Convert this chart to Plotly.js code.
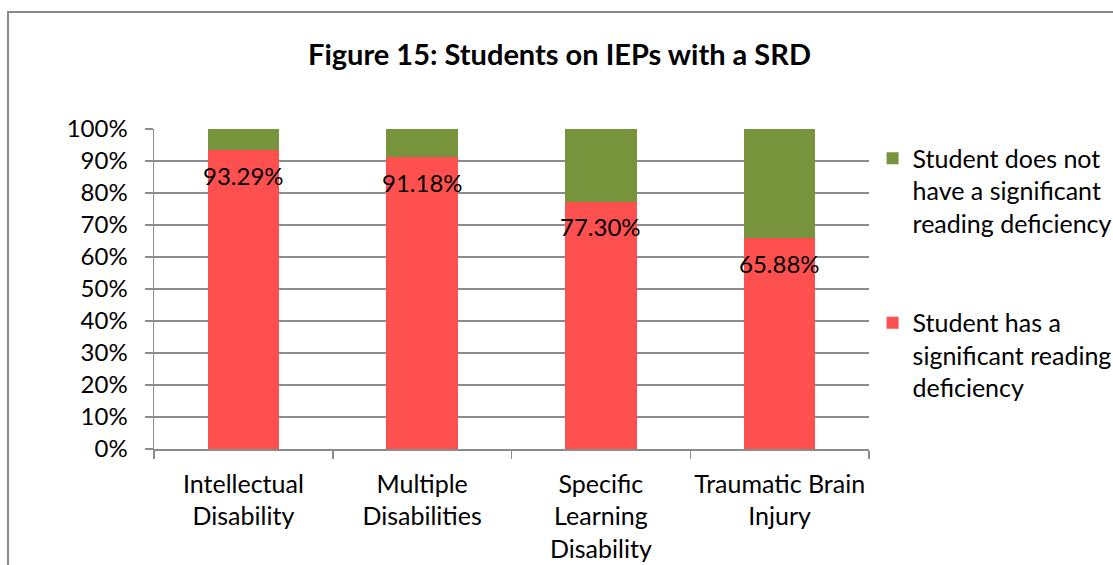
<!DOCTYPE html>
<html>
<head>
<meta charset="utf-8">
<script src="https://cdn.plot.ly/plotly-3.0.1.min.js"></script>
<style>
  html, body { margin: 0; padding: 0; background: #ffffff; overflow: hidden; }
  #chart { width: 1113px; height: 565px; }
</style>
</head>
<body>
<div id="chart"></div>
<script>
// ---- data ----
const categories = ['Intellectual Disability', 'Multiple Disabilities', 'Specific Learning Disability', 'Traumatic Brain Injury'];
const tickLabels = ['Intellectual<br>Disability', 'Multiple<br>Disabilities', 'Specific<br>Learning<br>Disability', 'Traumatic Brain<br>Injury'];
const hasSRD = [0.9329, 0.9118, 0.7730, 0.6588];
const noSRD = [0.0671, 0.0882, 0.2270, 0.3412];
const seriesNames = ['Student has a<br>significant reading<br>deficiency', 'Student does not<br>have a significant<br>reading deficiency'];
const yTickVals = [0, 0.1, 0.2, 0.3, 0.4, 0.5, 0.6, 0.7, 0.8, 0.9, 1.0];

const FONT = 'Lato, Carlito, Calibri, sans-serif';
const GRID = '#8c8c8c';

const traces = [
  {
    type: 'bar', x: categories, y: hasSRD, name: seriesNames[0],
    marker: { color: '#FF5050' }, legendgroup: 'a', legendrank: 2, hoverinfo: 'skip'
  },
  {
    type: 'bar', x: categories, y: noSRD, name: seriesNames[1],
    marker: { color: '#77933C' }, legendgroup: 'b', legendrank: 1, hoverinfo: 'skip'
  }
];

const annotations = categories.map((c, i) => ({
  x: c, y: hasSRD[i], xref: 'x', yref: 'y',
  text: (hasSRD[i] * 100).toFixed(2) + '%',
  showarrow: false, yanchor: 'middle', yshift: -25,
  font: { family: FONT, size: 24, color: '#000000' }
}));

const layout = {
  width: 1113, height: 565,
  paper_bgcolor: '#ffffff', plot_bgcolor: '#ffffff',
  margin: { l: 154, r: 244, t: 129, b: 116, pad: 0, autoexpand: false },
  barmode: 'stack', bargap: 0.6,
  font: { family: FONT, size: 24, color: '#000000' },
  title: {
    text: '<b>Figure 15: Students on IEPs with a SRD</b>',
    font: { family: FONT, size: 29, color: '#000000' },
    x: 0.5027, xref: 'container', xanchor: 'center',
    y: 0.903, yref: 'container', yanchor: 'middle'
  },
  xaxis: {
    type: 'category', categoryorder: 'array', categoryarray: categories,
    tickvals: categories, ticktext: tickLabels, tickangle: 0, automargin: false,
    tickson: 'boundaries', ticks: 'outside', ticklen: 8, tickwidth: 1.5, tickcolor: GRID,
    showline: true, linecolor: GRID, linewidth: 1.5, showgrid: false, zeroline: false,
    tickfont: { family: FONT, size: 25, color: '#000000' },
    ticklabelstandoff: 12, fixedrange: true
  },
  yaxis: {
    range: [0, 1], tickvals: yTickVals, tickformat: '.0%', automargin: false,
    ticks: 'outside', ticklen: 8, tickwidth: 1.5, tickcolor: GRID,
    showline: true, linecolor: GRID, linewidth: 1.5,
    showgrid: true, gridcolor: GRID, gridwidth: 1.5, zeroline: false,
    tickfont: { family: FONT, size: 24, color: '#000000' },
    ticklabelstandoff: 12, fixedrange: true
  },
  showlegend: true,
  legend: {
    x: 1.005, xanchor: 'left', y: 0.98, yanchor: 'top',
    traceorder: 'grouped', tracegroupgap: 64, valign: 'top',
    font: { family: FONT, size: 25, color: '#000000' },
    bgcolor: 'rgba(0,0,0,0)', borderwidth: 0, itemclick: false, itemdoubleclick: false
  },
  shapes: [{
    type: 'rect', xref: 'paper', yref: 'paper',
    x0: (8 - 154) / 715, x1: (1125 - 154) / 715,
    y0: (449 - 580) / 320, y1: (449 - 12) / 320,
    line: { color: '#8a8a8a', width: 2 }, fillcolor: 'rgba(0,0,0,0)', layer: 'below'
  }],
  annotations: annotations
};

Plotly.newPlot('chart', traces, layout, { displayModeBar: false, staticPlot: true });
</script>
</body>
</html>
